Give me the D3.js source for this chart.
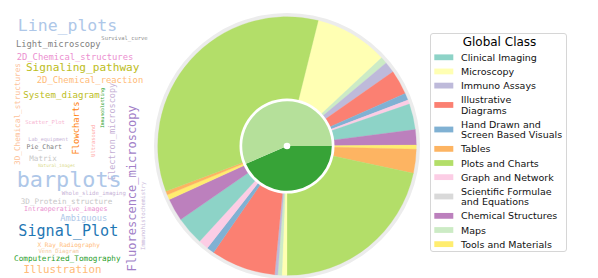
<!DOCTYPE html>
<html><head><meta charset="utf-8">
<script src="https://cdn.jsdelivr.net/npm/d3@7"></script>
<style>body{margin:0;background:#fff} svg{display:block}</style>
</head><body>
<svg id="chart" width="598" height="278"></svg>
<script>
// ---------------- data ----------------
const classes = ["Clinical Imaging","Microscopy","Immuno Assays","Illustrative Diagrams",
  "Hand Drawn and Screen Based Visuals","Tables","Plots and Charts","Graph and Network",
  "Scientific Formulae and Equations","Chemical Structures","Maps","Tools and Materials"];
const legendLines = [["Clinical Imaging"],["Microscopy"],["Immuno Assays"],["Illustrative","Diagrams"],
  ["Hand Drawn and","Screen Based Visuals"],["Tables"],["Plots and Charts"],["Graph and Network"],
  ["Scientific Formulae","and Equations"],["Chemical Structures"],["Maps"],["Tools and Materials"]];
const classColors = ["#8dd3c7","#ffffb3","#bebada","#fb8072","#80b1d3","#fdb462","#b3de69",
  "#fccde5","#d9d9d9","#bc80bd","#ccebc5","#ffed6f"];

// outer ring: two groups, same class order
const ringOrder = ["Microscopy","Maps","Immuno Assays","Illustrative Diagrams",
  "Hand Drawn and Screen Based Visuals","Graph and Network","Clinical Imaging",
  "Chemical Structures","Tools and Materials","Tables","Plots and Charts"];
const groupA = [33, 3, 5, 11, 3.2, 1.9, 11.6, 6.9, 1.8, 10.8, 77.8];
const groupB = [2.3, 1.8, 1.4, 29.1, 3.4, 4.5, 12.8, 10.2, 2.3, 1.7, 124.5];

// inner pie
const innerNames = ["dark", "light"];
const innerValues = [156.5, 203.5];
const innerColors = ["#37a337", "#b5e09a"];

// word cloud
const words = ["Line_plots","Survival_curve","Light_microscopy","2D_Chemical_structures",
  "Signaling_pathway","2D_Chemical_reaction","System_diagram","Immunoblotting",
  "3D_Chemical_structures","Flowcharts","Electron_microscopy","Fluorescence_microscopy",
  "Scatter_Plot","Ultrasound","Lab_equipment","Pie_Chart","Matrix","Natural_images",
  "barplots","Whole_slide_imaging","Immunohistochemistry","3D_Protein_structure",
  "Intraoperative_images","Ambiguous","Signal_Plot","X_Ray_Radiography","Venn_Diagram",
  "Computerized_Tomography","Illustration"];
const wordWeights = [16.5,5.5,8.8,8.8,11.1,8.85,9.1,4.75,7.7,8.8,8.5,12.0,5.5,5.3,5.1,6.5,7.6,4.4,
  21.8,5.6,5.7,7.6,6.6,8.7,15.1,6.1,5.6,7.7,10.8];

// ---------------- layout / style ----------------
const wordLayout = [ // [cx, cy, vertical]
  [67.5,25.2,0],[124.5,38.2,0],[58.3,44.4,0],[75,57,0],[82.7,67.7,0],[90,80,0],[61.5,95,0],
  [102.8,108,1],[17.5,114,1],[76,128,1],[111.7,131.5,1],[132,188.3,1],[45,121.7,0],[92.5,140.8,1],
  [48.3,139,0],[44.2,147.3,0],[43,158.8,0],[56.7,165.2,0],[69.2,179,0],[93.8,193,0],
  [142.8,215.8,1],[66.5,201.5,0],[65.7,209,0],[83.7,217.7,0],[68.3,230.7,0],[68.7,244.3,0],
  [58.7,251,0],[67.3,258.3,0],[62.5,269.3,0]];
const wordColors = ["#aec7e8","#8f8f8f","#7f7f7f","#ec8fd0","#bcbd22","#ffbb78","#bcbd22","#2ca02c",
  "#fdc29a","#ff7f0e","#c5b0d5","#a27fc8","#f7b6d2","#ffa8a6","#c5b0d5","#7f7f7f","#c7c7c7","#dbdb8d",
  "#aec7e8","#c5b0d5","#c9b8d9","#c7c7c7","#ea8fcf","#aec7e8","#1f77b4","#ffbb78","#f5c9a0",
  "#2ca02c","#ffbb78"];

const svg = d3.select("#chart");
svg.append("rect").attr("width",598).attr("height",278).attr("fill","#fff");

// word cloud
const fontScale = d3.scaleLinear().domain([0, 1]).range([0, 1]);
const cloud = svg.append("g").attr("font-family","DejaVu Sans Mono, monospace");
words.forEach((w, i) => {
  const [cx, cy, v] = wordLayout[i];
  cloud.append("text")
    .attr("transform", `translate(${cx},${cy})` + (v ? " rotate(-90)" : ""))
    .attr("text-anchor","middle")
    .attr("dominant-baseline","central")
    .attr("font-size", fontScale(wordWeights[i]))
    .attr("fill", wordColors[i])
    .text(w);
});

// pie
const cx = 287, cy = 146;
const colorOf = d3.scaleOrdinal().domain(classes).range(classColors);
const g = svg.append("g").attr("transform",`translate(${cx},${cy})`);
g.append("circle").attr("r",133).attr("fill","#ececec");

const ringData = ringOrder.map((c,i)=>({cls:c, v:groupA[i]}))
  .concat(ringOrder.map((c,i)=>({cls:c, v:groupB[i]})));
const deg = Math.PI/180;
const outerPie = d3.pie().sort(null).value(d=>d.v).startAngle(14*deg).endAngle(374*deg);
const outerArc = d3.arc().innerRadius(40).outerRadius(129.3);
g.selectAll("path.outer").data(outerPie(ringData)).join("path")
  .attr("class","outer")
  .attr("d", outerArc)
  .attr("fill", d=>colorOf(d.data.cls))
  .attr("stroke", d=>colorOf(d.data.cls)).attr("stroke-width",0.3);

g.append("circle").attr("r",47.5).attr("fill","#fff");
const innerPie = d3.pie().sort(null).startAngle(90*deg).endAngle(450*deg);
const innerArc = d3.arc().innerRadius(0).outerRadius(44.8);
g.selectAll("path.inner").data(innerPie(innerValues)).join("path")
  .attr("class","inner")
  .attr("d", innerArc)
  .attr("fill", (d,i)=>innerColors[i]);
g.append("circle").attr("r",3.3).attr("fill","#fff");

// legend
const lg = svg.append("g").attr("font-family","DejaVu Sans, sans-serif");
lg.append("rect").attr("x",430.5).attr("y",33.5).attr("width",136).attr("height",218)
  .attr("rx",2.5).attr("fill","#fff").attr("stroke","#d6d6d6").attr("stroke-width",1);
lg.append("text").attr("x",499.5).attr("y",41.5).attr("text-anchor","middle")
  .attr("dominant-baseline","central").attr("font-size",12).attr("fill","#000").text("Global Class");
const lineH = 10.4, pad = 3.75;
let yTop = 57.3 - (lineH + pad)/2;
legendLines.forEach((lines, i) => {
  const h = lines.length*lineH + pad;
  const yc = yTop + h/2;
  lg.append("rect").attr("x",434.3).attr("y",yc-2.9).attr("width",19).attr("height",5.8)
    .attr("fill", classColors[i]);
  lines.forEach((t, j) => {
    lg.append("text").attr("x",461).attr("y", yc + (j - (lines.length-1)/2)*lineH)
      .attr("dominant-baseline","central").attr("font-size",9.5).attr("fill","#111").text(t);
  });
  yTop += h;
});
</script>
</body></html>
